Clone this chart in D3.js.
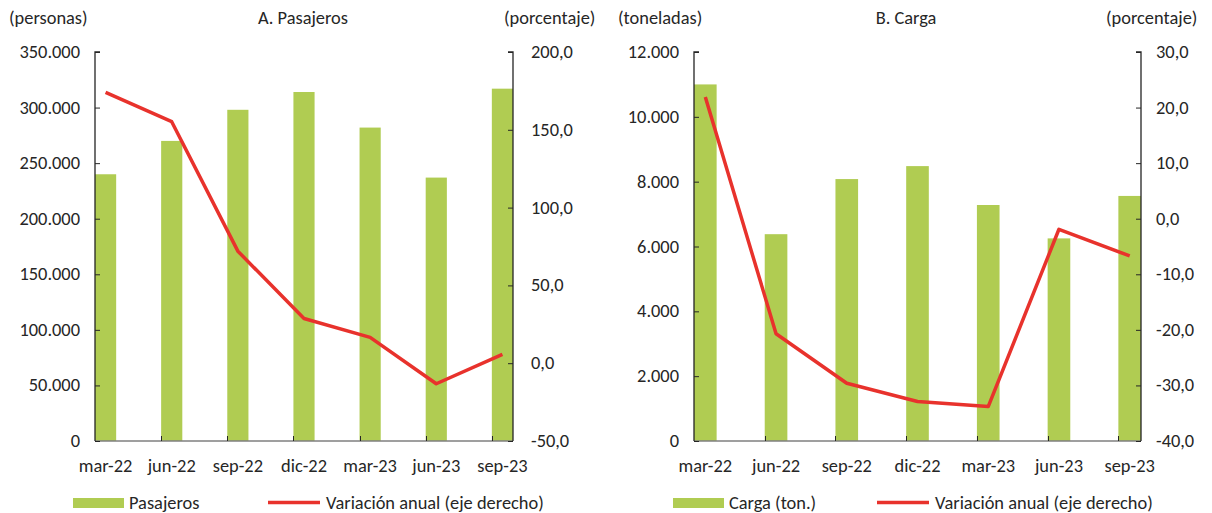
<!DOCTYPE html>
<html>
<head>
<meta charset="utf-8">
<script src="https://cdn.jsdelivr.net/npm/d3@7"></script>
<style>
  body { margin: 0; background: #fff; }
  svg { display: block; font-family: Carlito, Calibri, Lato, sans-serif; font-size: 18.4px; fill: #262626; }
</style>
</head>
<body>
<svg width="1212" height="513"></svg>
<script>
'use strict';

const quarters = ["mar-22", "jun-22", "sep-22", "dic-22", "mar-23", "jun-23", "sep-23"];

const pasajeros = [240000, 270000, 298000, 314000, 282000, 237000, 317000];
const pasajerosVar = [174.0, 155.2, 72.0, 28.7, 16.6, -13.2, 5.7];

const carga = [11000, 6380, 8080, 8480, 7280, 6250, 7560];
const cargaVar = [21.9, -20.7, -29.6, -32.9, -33.8, -1.9, -6.7];

const pasajerosTicks = [0, 50000, 100000, 150000, 200000, 250000, 300000, 350000];
const pasajerosVarTicks = [-50, 0, 50, 100, 150, 200];
const cargaTicks = [0, 2000, 4000, 6000, 8000, 10000, 12000];
const cargaVarTicks = [-40, -30, -20, -10, 0, 10, 20, 30];

const GREEN = "#b0cc52", RED = "#e8322c";

const svg = d3.select("svg");

// thousands with dot, decimals with comma
const fmtInt = d => d3.format(",")(d).replace(/,/g, ".");
const fmtPct = d => d3.format(".1f")(d).replace(".", ",").replace("−", "-");

function panel(o) {
    let g = svg.append("g");
    let top = 52, bottom = 441;

    let step = (o.right - o.left) / 6.32;
    let bw = step * 0.32;
    let x = d3.scalePoint().domain(quarters).range([o.left + bw / 2, o.right - bw / 2]);
    let y = d3.scaleLinear().domain(o.yDomain).range([bottom, top]);
    let y2 = d3.scaleLinear().domain(o.y2Domain).range([bottom, top]);

    // bars
    g.selectAll(".bar").data(o.bars).enter().append("rect")
        .attr("x", (d, i) => x(quarters[i]) - bw / 2)
        .attr("y", d => y(d))
        .attr("width", bw)
        .attr("height", d => bottom - y(d))
        .attr("fill", GREEN);

    // bottom axis
    g.append("line").attr("x1", o.left).attr("x2", o.right)
        .attr("y1", bottom).attr("y2", bottom)
        .attr("stroke", "#7f7f7f").attr("stroke-width", 1.3);
    g.selectAll(".xt").data(quarters.slice(1)).enter().append("line")
        .attr("x1", d => Math.round(x(d) - bw / 2) + 0.5)
        .attr("x2", d => Math.round(x(d) - bw / 2) + 0.5)
        .attr("y1", bottom).attr("y2", bottom - 5)
        .attr("stroke", "#262626");
    g.selectAll(".xl").data(quarters).enter().append("text")
        .attr("x", d => x(d)).attr("y", 472)
        .attr("text-anchor", "middle")
        .text(d => d);

    // left axis
    let la = g.append("g").attr("transform", `translate(${o.left},0)`)
        .call(d3.axisRight(y).tickValues(o.yTicks).tickSize(5).tickFormat(""));
    la.select(".domain").attr("d", `M5,${top}H0V${bottom}`).attr("stroke", "#262626").attr("stroke-width", 1.3);
    la.selectAll(".tick line").attr("stroke", "#262626");
    g.selectAll(".yl").data(o.yTicks).enter().append("text")
        .attr("x", o.left - 15).attr("y", d => y(d) + 6)
        .attr("text-anchor", "end")
        .text(fmtInt);

    // right axis
    let ra = g.append("g").attr("transform", `translate(${o.right},0)`)
        .call(d3.axisLeft(y2).tickValues(o.y2Ticks).tickSize(5).tickFormat(""));
    ra.select(".domain").attr("d", `M-5,${top}H0V${bottom}`).attr("stroke", "#262626").attr("stroke-width", 1.3);
    ra.selectAll(".tick line").attr("stroke", "#262626");
    g.selectAll(".y2l").data(o.y2Ticks).enter().append("text")
        .attr("x", o.right + o.rOff).attr("y", d => y2(d) + 6)
        .text(fmtPct);

    // line
    let line = d3.line().x((d, i) => x(quarters[i])).y(d => y2(d));
    g.append("path").datum(o.line)
        .attr("d", line)
        .attr("fill", "none")
        .attr("stroke", RED)
        .attr("stroke-width", 3.5)
        .attr("stroke-linejoin", "round");

    // headers
    g.append("text").attr("x", o.unitX).attr("y", 24).text(o.unit);
    g.append("text").attr("x", o.titleX).attr("y", 24).attr("text-anchor", "middle").text(o.title);
    g.append("text").attr("x", o.pctX).attr("y", 24).text("(porcentaje)");

    // legend
    g.append("rect").attr("x", o.legX).attr("y", 498).attr("width", 51).attr("height", 10).attr("fill", GREEN);
    g.append("text").attr("x", o.legX + 56).attr("y", 509).text(o.barName);
    g.append("line").attr("x1", o.legX2).attr("x2", o.legX2 + 52)
        .attr("y1", 502.5).attr("y2", 502.5)
        .attr("stroke", RED).attr("stroke-width", 3.5);
    g.append("text").attr("x", o.legX2 + 58).attr("y", 509).text("Variación anual (eje derecho)");
}

panel({
    left: 95, right: 513, rOff: 18,
    bars: pasajeros, line: pasajerosVar,
    yDomain: [0, 350000], yTicks: pasajerosTicks,
    y2Domain: [-50, 200], y2Ticks: pasajerosVarTicks,
    unit: "(personas)", unitX: 9, title: "A. Pasajeros", titleX: 303, pctX: 504,
    barName: "Pasajeros", legX: 73, legX2: 268
});

panel({
    left: 694, right: 1141, rOff: 15,
    bars: carga, line: cargaVar,
    yDomain: [0, 12000], yTicks: cargaTicks,
    y2Domain: [-40, 30], y2Ticks: cargaVarTicks,
    unit: "(toneladas)", unitX: 618, title: "B. Carga", titleX: 906, pctX: 1106,
    barName: "Carga (ton.)", legX: 673, legX2: 877
});
</script>
</body>
</html>
